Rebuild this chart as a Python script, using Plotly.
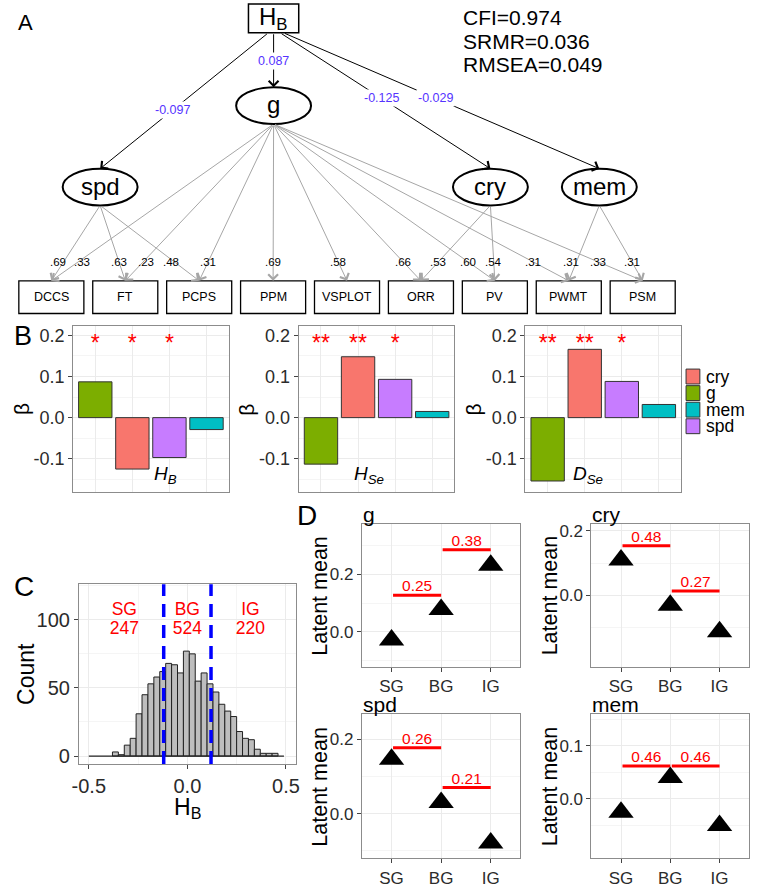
import plotly.graph_objects as go

W, H = 762, 888
FONT = "Liberation Sans, Arial, Helvetica, sans-serif"

# ======================= DATA =======================
# ---- Panel A : path diagram ----
indicators = ["DCCS", "FT", "PCPS", "PPM", "VSPLOT", "ORR", "PV", "PWMT", "PSM"]
hb_targets = ["g", "spd", "cry", "mem"]
hb_effects = [0.087, -0.097, -0.125, -0.029]
g_loadings = [0.33, 0.23, 0.31, 0.69, 0.58, 0.66, 0.60, 0.31, 0.33]
spd_items = ["DCCS", "FT", "PCPS"]
spd_loadings = [0.69, 0.63, 0.48]
cry_items = ["ORR", "PV"]
cry_loadings = [0.53, 0.54]
mem_items = ["PWMT", "PSM"]
mem_loadings = [0.31, 0.31]
fit_names = ["CFI", "SRMR", "RMSEA"]
fit_values = [0.974, 0.036, 0.049]

# ---- Panel B : regression weights ----
b_factors = ["g", "cry", "spd", "mem"]
beta_HB = [0.087, -0.125, -0.097, -0.029]
beta_HSe = [-0.113, 0.148, 0.093, 0.015]
beta_DSe = [-0.154, 0.166, 0.088, 0.032]
stars_HB = ["*", "*", "*", ""]
stars_HSe = ["**", "**", "*", ""]
stars_DSe = ["**", "**", "*", ""]
legend_factors = ["cry", "g", "mem", "spd"]

# ---- Panel C : histogram of H_B ----
hist_start = -0.5
hist_binwidth = 0.03
hist_counts = [0, 0, 0, 0, 3, 1, 8, 13, 31, 45, 53, 58, 62, 68, 67, 61, 77,
               75, 55, 61, 53, 47, 38, 33, 29, 18, 13, 12, 5, 2, 2, 2, 0]
cut_points = [-0.12, 0.12]
group_labels = ["SG", "BG", "IG"]
group_sizes = [247, 524, 220]

# ---- Panel D : latent means ----
groups = ["SG", "BG", "IG"]
mean_g = [-0.028, 0.078, 0.232]
mean_cry = [0.110, -0.031, -0.113]
mean_spd = [0.146, 0.030, -0.079]
mean_mem = [-0.026, 0.040, -0.051]
d_g = [0.25, 0.38]
d_cry = [0.48, 0.27]
d_spd = [0.26, 0.21]
d_mem = [0.46, 0.46]
bar_g = [0.128, 0.286]
bar_cry = [0.154, 0.013]
bar_spd = [0.177, 0.070]
bar_mem = [0.062, 0.062]
pairs = [(0, 1), (1, 2)]

# ======================= STYLE / LAYOUT =======================
COLORS = {"cry": "#F8766D", "g": "#7CAE00", "mem": "#00BFC4", "spd": "#C77CFF"}
GRID = "#EBEBEB"
MINOR = "#F3F3F3"
BORDER = "#8c8c8c"
TICKC = "#2b2b2b"

node_pos = {"HB": (270.5, 16.5), "g": (270.5, 104.5), "spd": (94.5, 186.5),
            "cry": (490.5, 186.5), "mem": (601.0, 186.5)}
ELL_RX, ELL_RY = 38, 18.5
HB_W, HB_H = 51, 29
BOX_X0, BOX_DX, BOX_W = 45, 75, 66
BOX_TOP, BOX_BOT = 281, 314
LOAD_LABEL_Y = 262
hb_label_frac = [0.52, 0.57, 0.48, 0.48]
label_nudge = {("spd", "DCCS"): -6, ("g", "DCCS"): 4, ("spd", "PCPS"): -3,
               ("g", "FT"): 3, ("mem", "PWMT"): -5}

B_X = [(67, 225), (296, 454), (526, 684)]
B_Y = (327, 494)
C_X, C_Y = (73, 293), (587, 768)
D_X = [(360, 521), (593, 753)]
D_Y = [(526, 670), (718, 863)]


def dx(a, b):
    return [a / W, b / W]


def dy(a, b):
    return [1 - b / H, 1 - a / H]


fig = go.Figure()
annotations = []
shapes = []

# ---------- Panel A ----------
P = dict(xref="x9", yref="y9")


def arrow(x0, y0, x1, y1, color, width=1.0, size=1.8):
    return dict(x=x1, y=y1, ax=x0, ay=y0, xref="x9", yref="y9", axref="x9",
                ayref="y9", text="", showarrow=True, arrowhead=4,
                arrowsize=size, arrowwidth=width, arrowcolor=color,
                standoff=0, startstandoff=0)


box_cx = {name: BOX_X0 + BOX_DX * i for i, name in enumerate(indicators)}

load_edges = []
for i, name in enumerate(indicators):
    load_edges.append(("g", name, g_loadings[i]))
for items, loads, fac in [(spd_items, spd_loadings, "spd"),
                          (cry_items, cry_loadings, "cry"),
                          (mem_items, mem_loadings, "mem")]:
    for it, ld in zip(items, loads):
        load_edges.append((fac, it, ld))

for fac, it, ld in load_edges:
    fx, fy = node_pos[fac]
    x0, y0 = fx, fy + ELL_RY
    x1, y1 = box_cx[it], BOX_TOP
    annotations.append(arrow(x0, y0, x1, y1, "#a6a6a6", 1.0, 1.9))
    t = (LOAD_LABEL_Y - y0) / (y1 - y0)
    lx = x0 + (x1 - x0) * t + label_nudge.get((fac, it), 0)
    annotations.append(dict(x=lx, y=LOAD_LABEL_Y, text=("%.2f" % ld)[1:], showarrow=False,
                            font=dict(size=11.5, color="black"), **P))

hx, hy = node_pos["HB"]
for k, (tgt, eff) in enumerate(zip(hb_targets, hb_effects)):
    tx, ty = node_pos[tgt]
    x0 = hx + (tx - hx) * 0.03
    y0 = hy + HB_H / 2
    x1, y1 = tx, ty - ELL_RY
    annotations.append(arrow(x0, y0, x1, y1, "black", 1.0, 1.9))
    f = hb_label_frac[k]
    annotations.append(dict(x=x0 + (x1 - x0) * f, y=y0 + (y1 - y0) * f,
                            text="%.3f" % eff, showarrow=False, bgcolor="white",
                            borderpad=1, font=dict(size=12.5, color="#5533ff"), **P))

shapes.append(dict(type="rect", x0=hx - HB_W / 2, x1=hx + HB_W / 2, y0=hy - HB_H / 2,
                   y1=hy + HB_H / 2, line=dict(color="black", width=1.5),
                   fillcolor="white", layer="above", **P))
annotations.append(dict(x=hx, y=hy, text="H<sub>B</sub>", showarrow=False,
                        font=dict(size=24, color="black"), **P))
for nm in hb_targets:
    cx, cy = node_pos[nm]
    shapes.append(dict(type="circle", x0=cx - ELL_RX, x1=cx + ELL_RX, y0=cy - ELL_RY,
                       y1=cy + ELL_RY, line=dict(color="black", width=2),
                       fillcolor="white", layer="above", **P))
    annotations.append(dict(x=cx, y=cy - 1, text=nm, showarrow=False,
                            font=dict(size=24, color="black"), **P))
for nm in indicators:
    cx = box_cx[nm]
    shapes.append(dict(type="rect", x0=cx - BOX_W / 2, x1=cx + BOX_W / 2, y0=BOX_TOP,
                       y1=BOX_BOT, line=dict(color="black", width=1.3),
                       fillcolor="white", layer="above", **P))
    annotations.append(dict(x=cx, y=(BOX_TOP + BOX_BOT) / 2, text=nm, showarrow=False,
                            font=dict(size=12.5, color="black"), **P))

for i, (n, v) in enumerate(zip(fit_names, fit_values)):
    annotations.append(dict(x=461, y=16 + 23.5 * i, text="%s=%.3f" % (n, v),
                            showarrow=False, xanchor="left",
                            font=dict(size=21, color="black"), **P))

for letter, x, y, s in [("A", 18.5, 21, 22), ("B", 16, 337, 27), ("C", 17, 589, 28),
                        ("D", 304, 518, 28)]:
    annotations.append(dict(x=x, y=y, text=letter, showarrow=False,
                            font=dict(size=s, color="black"), **P))

# ---------- Panel B ----------
b_sets = [(beta_HB, stars_HB, "<i>H</i><sub><i>B</i></sub>", 2.9),
          (beta_HSe, stars_HSe, "<i>H</i><sub><i>Se</i></sub>", 2.3),
          (beta_DSe, stars_DSe, "<i>D</i><sub><i>Se</i></sub>", 2.1)]
xpos_b = [1, 2, 3, 4]
for k, (vals, stars, lab, labx) in enumerate(b_sets):
    ax = str(k + 1) if k else ""
    fig.add_trace(go.Bar(x=xpos_b, y=vals, width=0.9,
                         marker=dict(color=[COLORS[f] for f in b_factors],
                                     line=dict(color="#333333", width=1)),
                         xaxis="x" + ax, yaxis="y" + ax, showlegend=False,
                         hoverinfo="skip"))
    sx_ = [x for x, s in zip(xpos_b, stars) if s]
    st_ = [s for s in stars if s]
    fig.add_trace(go.Scatter(x=sx_, y=[0.176] * len(sx_), text=st_, mode="text",
                             textfont=dict(size=23, color="red"),
                             xaxis="x" + ax, yaxis="y" + ax, showlegend=False))
    annotations.append(dict(x=labx, y=-0.14, text=lab, showarrow=False,
                            xref="x" + ax, yref="y" + ax,
                            font=dict(size=19, color="black")))
    x0, x1 = B_X[k]
    annotations.append(dict(x=x0 - 53, y=(B_Y[0] + B_Y[1]) / 2, text="β",
                            textangle=-90, showarrow=False,
                            font=dict(size=21, color="black"), **P))

for i, f in enumerate(legend_factors):
    ytop = 370 + 16.7 * i
    shapes.append(dict(type="rect", x0=689, x1=703, y0=ytop, y1=ytop + 15,
                       fillcolor=COLORS[f], line=dict(color="#333333", width=1), **P))
    annotations.append(dict(x=708, y=ytop + 7.5, text=f, showarrow=False, xanchor="left",
                            borderpad=0, font=dict(size=17.5, color="black"), **P))

# ---------- Panel C ----------
edges = [hist_start + hist_binwidth * i for i in range(len(hist_counts) + 1)]
centers = [(edges[i] + edges[i + 1]) / 2 for i in range(len(hist_counts))]
hx_c = [c for c, n in zip(centers, hist_counts) if n > 0]
hy_c = [n for n in hist_counts if n > 0]
fig.add_trace(go.Bar(x=hx_c, y=hy_c, width=hist_binwidth,
                     marker=dict(color="#BEBEBE", line=dict(color="#222222", width=1)),
                     xaxis="x4", yaxis="y4", showlegend=False, hoverinfo="skip"))
fig.add_trace(go.Scatter(x=[edges[0], edges[-1]], y=[0, 0], mode="lines",
                         line=dict(color="#222222", width=1.2),
                         xaxis="x4", yaxis="y4", showlegend=False))
for cp in cut_points:
    shapes.append(dict(type="line", x0=cp, x1=cp, y0=0, y1=1, xref="x4", yref="y4 domain",
                       line=dict(color="#0000FF", width=3.5, dash="13px,8px"), layer="above"))
label_x = [-0.32, 0.0, 0.32]
fig.add_trace(go.Scatter(x=label_x, y=[107] * 3, text=group_labels, mode="text",
                         textfont=dict(size=17.5, color="red"),
                         xaxis="x4", yaxis="y4", showlegend=False))
fig.add_trace(go.Scatter(x=label_x, y=[92.5] * 3, text=[str(s) for s in group_sizes],
                         mode="text", textfont=dict(size=17.5, color="red"),
                         xaxis="x4", yaxis="y4", showlegend=False))
annotations.append(dict(x=19, y=(C_Y[0] + C_Y[1]) / 2, text="Count", textangle=-90,
                        showarrow=False, font=dict(size=23, color="black"), **P))
annotations.append(dict(x=(C_X[0] + C_X[1]) / 2, y=812, text="H<sub>B</sub>",
                        showarrow=False, height=24, borderpad=0, valign="middle",
                        font=dict(size=23, color="black"), **P))

# ---------- Panel D ----------
d_sets = [("g", mean_g, d_g, bar_g), ("cry", mean_cry, d_cry, bar_cry),
          ("spd", mean_spd, d_spd, bar_spd), ("mem", mean_mem, d_mem, bar_mem)]
xg = [1, 2, 3]
for k, (nm, means, dvals, ybars) in enumerate(d_sets):
    ax = str(k + 5)
    for (i, j), dv, yb in zip(pairs, dvals, ybars):
        xa, xb = xg[i] + 0.03, xg[j]
        fig.add_trace(go.Scatter(x=[xa, xb], y=[yb, yb], mode="lines",
                                 line=dict(color="red", width=3),
                                 xaxis="x" + ax, yaxis="y" + ax, showlegend=False))
        fig.add_trace(go.Scatter(x=[(xa + xb) / 2], y=[yb], mode="text",
                                 text=["%.2f" % dv], textposition="top center",
                                 textfont=dict(size=15.5, color="red"),
                                 xaxis="x" + ax, yaxis="y" + ax, showlegend=False))
    fig.add_trace(go.Scatter(x=xg, y=means, mode="markers",
                             marker=dict(symbol="triangle-up", size=22, color="black",
                                         line=dict(width=0)),
                             xaxis="x" + ax, yaxis="y" + ax, showlegend=False))
    col, row = k % 2, k // 2
    x0, x1 = D_X[col]
    y0, y1 = D_Y[row]
    annotations.append(dict(x=x0, y=y0 + 3, text=nm, showarrow=False, xanchor="left",
                            yanchor="bottom", borderpad=0,
                            font=dict(size=21, color="black"), **P))
    annotations.append(dict(x=x0 - 42, y=(y0 + y1) / 2, text="Latent mean", textangle=-90,
                            showarrow=False, font=dict(size=21.5, color="black"), **P))

fig.add_trace(go.Scatter(x=[None], y=[None], xaxis="x9", yaxis="y9", showlegend=False))

# ======================= AXES =======================
base = dict(showline=True, mirror=True, linecolor=BORDER, linewidth=1, gridcolor=GRID,
            gridwidth=1, zeroline=False, fixedrange=True, ticks="outside", ticklen=4,
            tickcolor="#444444", tickfont=dict(size=18, color=TICKC, family=FONT))

layout = dict(width=W, height=H, margin=dict(l=0, r=0, t=0, b=0),
              paper_bgcolor="white", plot_bgcolor="rgba(0,0,0,0)", showlegend=False,
              font=dict(family=FONT, color="black"))

for k in range(3):
    sx = str(k + 1) if k else ""
    layout["xaxis" + sx] = dict(base, domain=dx(*B_X[k]), range=[0.4, 4.6],
                                tickvals=xpos_b, showticklabels=False, ticks="",
                                anchor="y" + sx)
    layout["yaxis" + sx] = dict(base, domain=dy(*B_Y), range=[-0.181, 0.2217],
                                tickvals=[-0.1, 0, 0.1, 0.2],
                                ticktext=["-0.1", "0.0", "0.1", "0.2"],
                                minor=dict(tickvals=[-0.15, -0.05, 0.05, 0.15], showgrid=True,
                                           gridcolor=MINOR, gridwidth=0.8, ticks=""),
                                anchor="x" + sx)

layout["xaxis4"] = dict(base, domain=dx(*C_X), range=[-0.55, 0.55], tickvals=[-0.5, 0, 0.5],
                        ticktext=["-0.5", "0.0", "0.5"],
                        tickfont=dict(size=20, color=TICKC, family=FONT),
                        minor=dict(tickvals=[-0.25, 0.25], showgrid=True, gridcolor=MINOR,
                                   gridwidth=0.8, ticks=""), anchor="y4")
layout["yaxis4"] = dict(base, domain=dy(*C_Y), range=[-5.8, 126], tickvals=[0, 50, 100],
                        tickfont=dict(size=20, color=TICKC, family=FONT),
                        minor=dict(tickvals=[25, 75, 125], showgrid=True, gridcolor=MINOR,
                                   gridwidth=0.8, ticks=""), anchor="x4")

d_ranges = [[-0.121, 0.376], [-0.222, 0.222], [-0.12, 0.267], [-0.113, 0.16]]
d_ticks = [[0, 0.2], [0, 0.2], [0, 0.2], [0, 0.1]]
d_minor = [[-0.1, 0.1, 0.3], [-0.1, 0.1], [-0.1, 0.1], [-0.05, 0.05, 0.15]]
for k in range(4):
    s = str(k + 5)
    col, row = k % 2, k // 2
    layout["xaxis" + s] = dict(base, domain=dx(*D_X[col]), range=[0.4, 3.6], tickvals=xg,
                               ticktext=groups, tickfont=dict(size=17, color=TICKC, family=FONT),
                               anchor="y" + s)
    layout["yaxis" + s] = dict(base, domain=dy(*D_Y[row]), range=d_ranges[k],
                               tickvals=d_ticks[k], ticktext=["%.1f" % v for v in d_ticks[k]],
                               tickfont=dict(size=17, color=TICKC, family=FONT),
                               minor=dict(tickvals=d_minor[k], showgrid=True, gridcolor=MINOR,
                                          gridwidth=0.8, ticks=""), anchor="x" + s)

layout["xaxis9"] = dict(domain=[0, 1], range=[0, W], visible=False, fixedrange=True,
                        anchor="y9")
layout["yaxis9"] = dict(domain=[0, 1], range=[H, 0], visible=False, fixedrange=True,
                        anchor="x9")
layout["annotations"] = annotations
layout["shapes"] = shapes

fig.update_layout(**layout)
fig.write_html("out.html", config={"displayModeBar": False, "staticPlot": True},
               post_script="document.body.style.margin='0';")
